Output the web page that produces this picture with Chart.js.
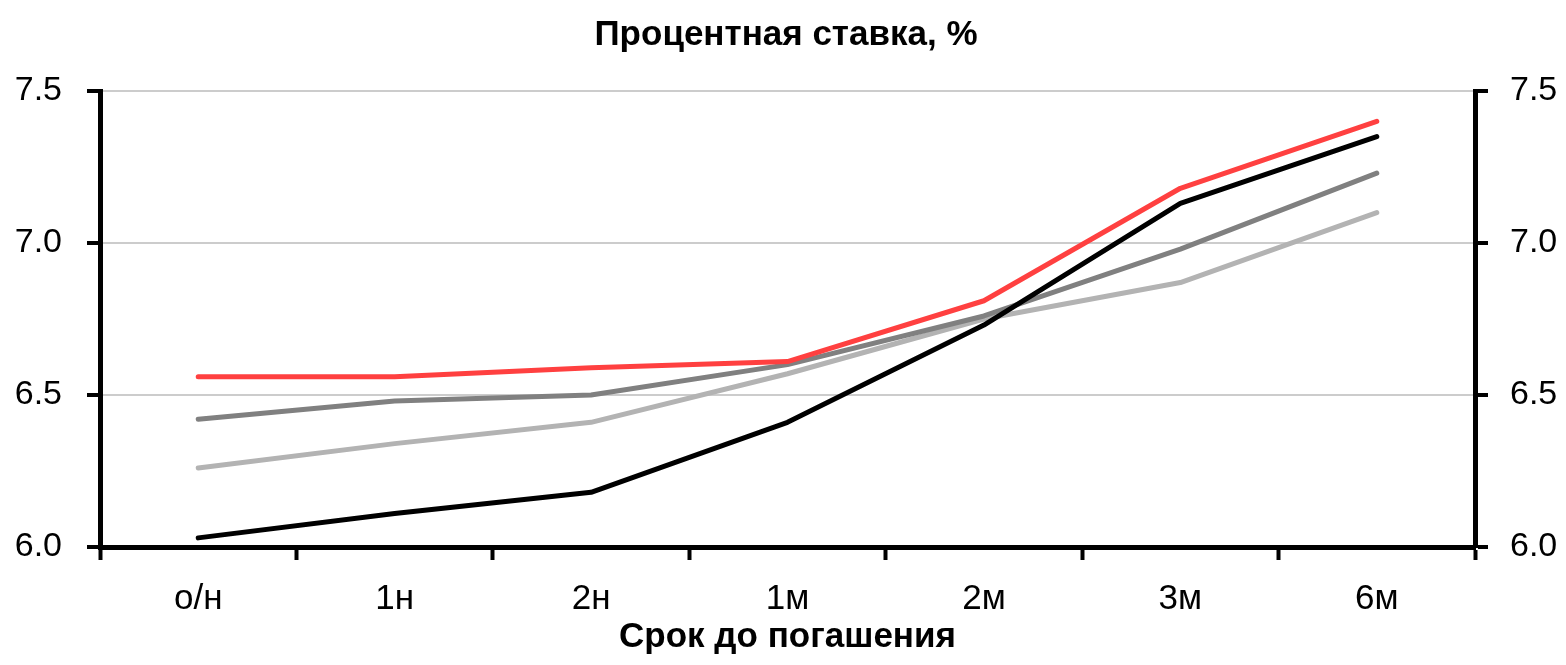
<!DOCTYPE html>
<html>
<head>
<meta charset="utf-8">
<script src="https://cdn.jsdelivr.net/npm/chart.js@4/dist/chart.umd.min.js"></script>
<style>
    html, body { margin: 0; padding: 0; background: #fff; }
    #wrap { width: 1566px; height: 665px; }
</style>
</head>
<body>
<div id="wrap"><canvas id="myChart"></canvas></div>
<script>
const categories = ['о/н', '1н', '2н', '1м', '2м', '3м', '6м']
const redSeries = [6.56, 6.56, 6.59, 6.61, 6.81, 7.18, 7.40]
const darkGraySeries = [6.42, 6.48, 6.50, 6.60, 6.76, 6.98, 7.23]
const lightGraySeries = [6.26, 6.34, 6.41, 6.57, 6.75, 6.87, 7.10]
const blackSeries = [6.03, 6.11, 6.18, 6.41, 6.73, 7.13, 7.35]
const yTicks = [6.0, 6.5, 7.0, 7.5]

const fontFamily = "'Liberation Sans Narrow', 'Arial Narrow', 'Liberation Sans', Arial, sans-serif"

function line(data, color, order) {
    return {
        data: data,
        borderColor: color,
        backgroundColor: color,
        borderWidth: 5,
        borderCapStyle: 'round',
        borderJoinStyle: 'round',
        pointRadius: 0,
        tension: 0,
        order: order,
    }
}

function yAxis(position) {
    return {
        position: position,
        min: 6.0,
        max: 7.5,
        afterBuildTicks: axis => { axis.ticks = yTicks.map(v => ({ value: v })) },
        // fixed widths so the plot area matches the original
        afterFit: axis => { axis.width = position === 'left' ? 85 : 82 },
        border: { display: true, color: '#000', width: 5 },
        grid: {
            drawOnChartArea: position === 'left',
            color: '#cccccc',
            lineWidth: 2,
            tickColor: '#000',
            tickWidth: 4,
            tickLength: 13,
        },
        ticks: {
            color: '#000',
            padding: position === 'left' ? 25 : 22,
            font: { family: fontFamily, size: 34 },
            callback: v => Number(v).toFixed(1),
        },
    }
}

let ctx = document.getElementById('myChart')
let myChart = new Chart(ctx, {
    type: 'line',
    data: {
        labels: categories,
        datasets: [
            line(lightGraySeries, '#b3b3b3', 4),
            line(darkGraySeries, '#808080', 3),
            line(redSeries, '#ff4040', 2),
            line(blackSeries, '#000000', 1),
        ]
    },
    options: {
        responsive: true,
        maintainAspectRatio: false,
        animation: false,
        layout: { padding: { left: 15, right: 9, top: 0, bottom: 0 } },
        plugins: {
            legend: { display: false },
            tooltip: { enabled: false },
            title: {
                display: true,
                text: 'Процентная ставка, %',
                color: '#000',
                font: { family: fontFamily, size: 35, weight: 'bold' },
                padding: { top: 14, bottom: 35 },
            },
        },
        scales: {
            x: {
                offset: true,
                afterFit: axis => { axis.height = 118 },
                border: { display: true, color: '#000', width: 5 },
                grid: {
                    offset: true,
                    drawOnChartArea: false,
                    color: '#000',
                    tickColor: '#000',
                    tickWidth: 4,
                    tickLength: 13,
                },
                ticks: {
                    color: '#000',
                    padding: 18,
                    font: { family: fontFamily, size: 35 },
                },
                title: {
                    display: true,
                    text: 'Срок до погашения',
                    color: '#000',
                    font: { family: fontFamily, size: 35, weight: 'bold' },
                    padding: { top: 0, bottom: 7 },
                },
            },
            y: yAxis('left'),
            y1: yAxis('right'),
        }
    },
})
</script>
</body>
</html>
